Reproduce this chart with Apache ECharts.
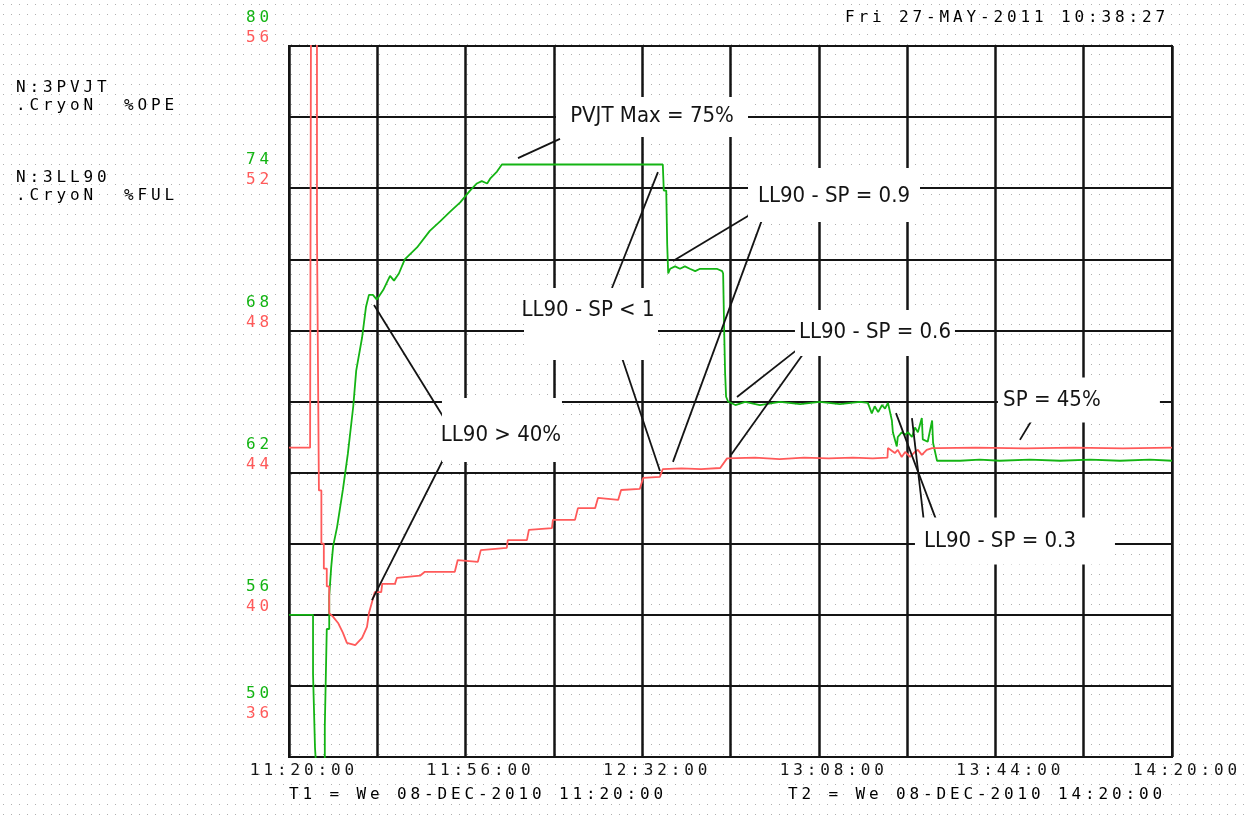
<!DOCTYPE html>
<html>
<head>
<meta charset="utf-8">
<title>3PVJT / 3LL90</title>
<script src="https://cdn.jsdelivr.net/npm/echarts@6/dist/echarts.min.js"></script>
<style>
    html, body { margin: 0; padding: 0; }
    body {
        background: #fff url("data:image/svg+xml;utf8,<svg xmlns='http://www.w3.org/2000/svg' width='8' height='10'><rect x='3' y='4' width='1' height='1' fill='%23b0b0b0'/></svg>");
    }
    #chart { width: 1247px; height: 821px; }
</style>
</head>
<body>
<div id="chart"></div>
<script>
// x = minutes after 11:20:00 (08-DEC-2010)
// N:3PVJT .CryoN %OPE  (green axis 50..80)
var greenT = [0, 4.9, 4.9, 5.3, 5.3, 5.7, 5.7, 7.3, 7.3, 7.7, 7.7, 8.2, 8.2,
    8.6, 9.0, 9.8, 11.0, 12.0, 13.1, 13.7, 14.9, 15.7, 16.3, 17.1, 17.9, 19.2, 20.6, 21.4, 22.4, 23.6,
    26.1, 28.7, 30.8, 32.8, 34.9, 36.9, 38.3, 39.3, 40.4, 41.0, 42.4, 43.4,
    76.2, 76.4, 76.9, 77.1, 77.3, 77.7, 78.7, 79.7, 80.7, 81.7, 82.8, 83.8, 87.2, 88.3, 88.5, 88.7, 88.9, 89.1, 89.5,
    91.0, 93.0, 96.0, 100.1, 104.2, 108.2, 112.3, 116.4, 118.0,
    118.8, 119.4, 120.1, 120.9, 121.5, 122.1, 122.9, 123.1, 123.9, 124.1, 124.9, 125.6, 126.2, 127.0, 127.6, 128.2, 129.0, 129.2, 130.2, 131.1, 131.3,
    132.1, 136.8, 140.8, 144.9, 151.0, 157.2, 163.3, 169.4, 175.5, 180];
var greenV = [56, 56, 53.5, 53.5, 50.4, 50.4, 49, 49, 51.3, 51.3, 55.4, 55.4, 56.8,
    58.0, 58.9, 59.7, 61.3, 62.8, 64.8, 66.3, 67.7, 69.0, 69.5, 69.5, 69.3, 69.7, 70.3, 70.1, 70.4, 71.0,
    71.5, 72.2, 72.6, 73.0, 73.4, 73.9, 74.2, 74.3, 74.2, 74.4, 74.7, 75.0,
    75.0, 73.9, 73.9, 71.6, 70.4, 70.6, 70.7, 70.6, 70.7, 70.6, 70.5, 70.6, 70.6, 70.5, 70.4, 68.1, 66.2, 65.2, 65.0,
    64.85, 64.98, 64.85, 64.98, 64.89, 64.98, 64.89, 64.98, 64.94,
    64.5, 64.8, 64.55, 64.85, 64.7, 64.94, 64.2, 63.7, 63.1, 63.5, 63.7, 63.6, 63.7, 63.5, 63.9, 63.7, 64.3, 63.4, 63.3, 64.2, 63.25,
    62.5, 62.5, 62.55, 62.5, 62.55, 62.5, 62.55, 62.5, 62.55, 62.5];

// N:3LL90 .CryoN %FUL  (red axis 36..56)
var redT = [0, 4.3, 4.5, 5.7, 5.7, 6.1, 6.1, 6.6, 6.6, 7.1, 7.1, 7.7, 7.7, 8.2, 8.2,
    9.0, 10.0, 11.0, 11.8, 13.5, 14.9, 15.9, 16.3, 17.5, 18.8, 19.0, 21.6, 22.0, 26.7, 27.7,
    33.8, 34.4, 38.5, 39.1, 44.4, 44.6, 48.5, 48.9, 53.6, 53.8, 58.3, 58.9, 62.4, 63.0, 67.1, 67.7, 71.5, 72.2, 75.6, 76.2,
    80.0, 84.0, 87.9, 89.3, 95.0, 100.0, 105.0, 110.0, 115.0, 119.0, 122.0,
    122.1, 123.5, 124.1, 124.9, 125.6, 126.6, 127.6, 128.2, 129.0, 130.0, 131.1, 132.1,
    140, 150, 160, 170, 180];
var redV = [44.7, 44.7, 58, 58, 50.8, 50.8, 43.5, 43.5, 42.0, 42.0, 41.3, 41.3, 40.8, 40.8, 40.05,
    39.94, 39.77, 39.49, 39.21, 39.15, 39.35, 39.66, 40.05, 40.64, 40.64, 40.87, 40.87, 41.04, 41.1, 41.21,
    41.21, 41.54, 41.49, 41.82, 41.88, 42.10, 42.10, 42.39, 42.44, 42.67, 42.67, 43.0, 43.0, 43.29, 43.23, 43.51, 43.54, 43.85, 43.88, 44.1,
    44.12, 44.1, 44.13, 44.4, 44.42, 44.38, 44.42, 44.4, 44.42, 44.4, 44.42,
    44.69, 44.55, 44.64, 44.44, 44.58, 44.44, 44.58, 44.64, 44.50, 44.64, 44.69, 44.69,
    44.7, 44.68, 44.7, 44.68, 44.7];

var timeLabels = ['11:20:00', '', '11:56:00', '', '12:32:00', '', '13:08:00', '', '13:44:00', '', '14:20:00'];
var greenTicks = [50, 56, 62, 68, 74, 80];
var redTicks = [36, 40, 44, 48, 52, 56];

// annotation texts, anchored in (minutes, green axis value)
var notes = [
    {text: 'PVJT Max = 75%', at: [74.0, 77.05]},
    {text: 'LL90 - SP = 0.9', at: [111.1, 73.67]},
    {text: 'LL90 - SP < 1', at: [60.95, 68.86]},
    {text: 'LL90 - SP = 0.6', at: [119.45, 67.93]},
    {text: 'LL90 > 40%', at: [43.21, 63.59]},
    {text: 'SP = 45%', at: [155.52, 65.06]},
    {text: 'LL90 - SP = 0.3', at: [144.93, 59.11]}
];
var pointers = [
    [[46.68, 75.27], [55.24, 76.08]],
    [[78.27, 70.93], [95.60, 73.08]],
    [[78.27, 62.45], [97.02, 73.0]],
    [[75.21, 74.68], [65.84, 69.79]],
    [[75.62, 62.07], [65.84, 68.10]],
    [[91.32, 65.19], [104.77, 67.38]],
    [[90.09, 62.74], [105.38, 67.17]],
    [[17.33, 69.07], [31.59, 64.30]],
    [[16.92, 56.62], [32.21, 62.87]],
    [[149.0, 63.38], [152.06, 64.43]],
    [[123.73, 64.51], [132.08, 59.92]],
    [[126.99, 64.30], [129.43, 59.92]]
];

var GREEN = '#14b414';
var RED = '#ff5a5a';
var INK = '#141414';
var MONO = 'DejaVu Sans Mono';

// wide terminal style lettering: every char gets its own fixed box
function mono(str, tag) {
    return str.split('').map(function (c) { return '{' + tag + '|' + c + '}'; }).join('');
}
function cell(color, lift) {
    return {
        fontFamily: MONO, fontSize: 16, color: color, width: 13.5, align: 'center',
        padding: lift ? [0, 0, lift * 2, 0] : 0
    };
}
var rich = {
    k: cell(INK), g: cell(GREEN), r: cell(RED),
    gUp: cell(GREEN, 28), gLow: cell(GREEN, 63),
    rUp: cell(RED, 8), rLow: cell(RED, 43)
};
function zip(t, v) {
    return t.map(function (x, i) { return [x, v[i]]; });
}

var chart = echarts.init(document.getElementById('chart'));
var option = {
    animation: false,
    backgroundColor: 'transparent',
    grid: {
        left: 289, right: 75, top: 46, bottom: 64,
        show: true, borderColor: INK, borderWidth: 2, backgroundColor: 'transparent',
        outerBoundsMode: 'none'
    },
    xAxis: {
        type: 'value', min: 0, max: 180, interval: 18,
        axisLine: {show: false}, axisTick: {show: false},
        splitLine: {show: true, lineStyle: {color: INK, width: 2.5}},
        axisLabel: {
            margin: 6, padding: [0, 0, 0, 26], rich: rich,
            formatter: function (v) {
                var s = timeLabels[Math.round(v / 18)];
                return s ? mono(s, 'k') : '';
            }
        }
    },
    yAxis: [
        {
            type: 'value', min: 50, max: 80, interval: 3, position: 'left',
            axisLine: {show: false}, axisTick: {show: false},
            splitLine: {show: true, lineStyle: {color: INK, width: 2}},
            axisLabel: {
                margin: 18, rich: rich,
                formatter: function (v) {
                    if (greenTicks.indexOf(v) < 0) return '';
                    return mono(String(v), v === 50 ? 'gLow' : 'gUp');
                }
            }
        },
        {
            type: 'value', min: 36, max: 56, interval: 2, position: 'left', offset: 0,
            axisLine: {show: false}, axisTick: {show: false}, splitLine: {show: false},
            axisLabel: {
                margin: 18, rich: rich,
                formatter: function (v) {
                    if (redTicks.indexOf(v) < 0) return '';
                    return mono(String(v), v === 36 ? 'rLow' : 'rUp');
                }
            }
        }
    ],
    series: [
        {
            name: '3PVJT', type: 'line', yAxisIndex: 0, data: zip(greenT, greenV),
            showSymbol: false, silent: true, z: 3,
            lineStyle: {color: GREEN, width: 1.8}, itemStyle: {color: GREEN}
        },
        {
            name: '3LL90', type: 'line', yAxisIndex: 1, data: zip(redT, redV),
            showSymbol: false, silent: true, z: 4,
            lineStyle: {color: RED, width: 1.8}, itemStyle: {color: RED}
        }
    ]
};
chart.setOption(option);

// overlay texts and call-outs
function px(p) {
    return chart.convertToPixel({xAxisIndex: 0, yAxisIndex: 0}, p);
}
function monoText(s, tag, x, y) {
    return {
        type: 'text', x: x, y: y, z: 20, silent: true,
        style: {text: mono(s, tag), rich: rich, align: 'left', verticalAlign: 'middle'}
    };
}
// white boxes behind the call-out texts: [width, height, dx, dy]
var boxes = [[192, 40, 0, 1], [172, 54, 0, -1], [134, 72, 3, 14], [160, 46, 0, 1],
    [120, 64, 1, -5], [162, 45, 27, 0], [200, 47, 15, 0]];

var elems = [
    monoText('Fri 27-MAY-2011 10:38:27', 'k', 843, 18),
    monoText('N:3PVJT', 'g', 14, 88),
    monoText('.CryoN  %OPE', 'g', 14, 106),
    monoText('N:3LL90', 'r', 14, 178),
    monoText('.CryoN  %FUL', 'r', 14, 196),
    monoText('T1 = We 08-DEC-2010 11:20:00', 'k', 287, 795),
    monoText('T2 = We 08-DEC-2010 14:20:00', 'k', 786, 795)
];
pointers.forEach(function (p) {
    var a = px(p[0]), b = px(p[1]);
    elems.push({
        type: 'line', z: 10, silent: true,
        shape: {x1: a[0], y1: a[1], x2: b[0], y2: b[1]},
        style: {stroke: INK, lineWidth: 1.8}
    });
});
notes.forEach(function (n, i) {
    var c = px(n.at), b = boxes[i];
    elems.push({
        type: 'rect', z: 11, silent: true,
        shape: {x: c[0] + b[2] - b[0] / 2, y: c[1] + b[3] - b[1] / 2, width: b[0], height: b[1]},
        style: {fill: '#fff'}
    });
    elems.push({
        type: 'text', z: 12, x: c[0], y: c[1], silent: true,
        style: {
            text: n.text, fill: INK, align: 'center', verticalAlign: 'middle',
            font: '22px "DejaVu Sans Condensed", "Liberation Sans Narrow", sans-serif'
        }
    });
});
chart.setOption({graphic: {elements: elems}});

window.addEventListener('resize', function () {
    chart.resize();
});
</script>
</body>
</html>
